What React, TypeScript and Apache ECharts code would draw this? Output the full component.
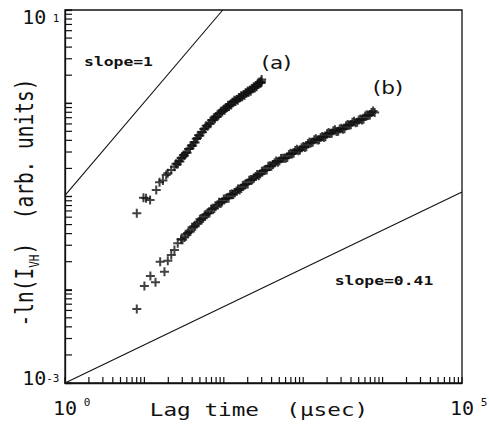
import React, { useEffect, useRef } from "react";
import * as echarts from "echarts";

// ---- data (lag time in µs, -ln(I_VH) in arbitrary units) ----
const A_LAG = [
  8.02, 9.74, 10.5, 11.8, 14.1, 15.5, 17.1, 18.8, 19.7, 21.8, 23.9,
  25, 26, 27, 28, 29, 30, 31, 32, 33, 34.5, 36, 37.5, 39, 40.5, 42, 43.5, 45, 46.5, 48, 50,
  52, 54, 56, 58, 60, 62.5, 65, 67.5, 70, 72.5, 75, 77.5, 80, 83, 86, 89, 92, 95.5, 99, 102.5,
  106, 109.5, 113, 116.5, 120, 124, 128, 132, 136, 140.5, 145, 150, 155, 160, 165, 170.5, 176, 182,
  188, 194, 200, 206, 212, 218.5, 225, 231.5, 238, 245, 252, 259, 266, 273, 280, 290, 295, 298, 300,
];
const A_VAL = [
  0.0661, 0.0971, 0.0957, 0.0918, 0.1175, 0.142, 0.148, 0.17, 0.178, 0.192, 0.209,
  0.2244, 0.2223, 0.2382, 0.2377, 0.2588, 0.2618, 0.2793, 0.2748, 0.2931, 0.2944, 0.3228, 0.3289,
  0.3532, 0.3516, 0.3793, 0.3802, 0.4159, 0.4227, 0.4529, 0.452,
  0.4898, 0.4875, 0.5309, 0.5358, 0.5721, 0.5662, 0.6067, 0.6039, 0.6577, 0.6607, 0.6998, 0.6823,
  0.7228, 0.7161, 0.7709, 0.7745, 0.8222, 0.804, 0.8551, 0.8414,
  0.9024, 0.9012, 0.951, 0.9224, 0.9719, 0.955, 1.0242, 1.0228, 1.0765, 1.0433, 1.097, 1.077,
  1.1522, 1.1482, 1.2071, 1.1716, 1.2337, 1.2093,
  1.2931, 1.2882, 1.3545, 1.3111, 1.3766, 1.3477, 1.4401, 1.4328, 1.5044, 1.4541, 1.5294, 1.5013,
  1.6087, 1.6024, 1.6866, 1.6451, 1.7231, 1.6689, 1.8,
];
const B_LAG = [
  8.02, 10.0, 11.9, 13.8, 15.8, 17.9, 19.7, 21.8, 23.9, 26.3,
  29, 30.2, 32, 33.1, 35, 36.3, 38, 39.8, 42, 43.7, 46, 47.9, 50, 52.5, 55, 57.5, 60, 63.1, 66, 69.2,
  72, 75.9, 79, 83.2, 87, 91.2, 95, 100, 105, 109.6, 115, 120.2, 126, 131.8, 138, 144.5, 151, 158.5,
  166, 173.8, 182, 190.5, 200, 208.9, 219, 229.1, 240, 251.2, 263, 275.4, 288, 302, 316, 331.1,
  347, 363.1, 380, 398.1, 417, 436.5, 457, 478.6, 501, 524.8, 550, 575.4,
  603, 631, 661, 692, 724, 759, 794, 832, 871, 912, 955, 1000, 1047, 1096,
  1148, 1202, 1259, 1318, 1380, 1445, 1514, 1585, 1660, 1738, 1820, 1905, 1995, 2089,
  2188, 2291, 2399, 2512, 2630, 2754, 2884, 3020, 3162, 3311, 3467, 3631, 3802, 3981,
  4169, 4365, 4571, 4786, 5012, 5248, 5495, 5754, 6026, 6310, 6607, 6918, 7244, 7586, 7943,
];
const B_VAL = [
  0.00622, 0.011, 0.014, 0.012, 0.02, 0.0156, 0.0205, 0.0236, 0.0267, 0.0315,
  0.0351, 0.03447, 0.0363, 0.03948, 0.0405, 0.04134, 0.0421, 0.0467, 0.0481, 0.048, 0.0507,
  0.05348, 0.0569, 0.05587, 0.0586, 0.06341, 0.0646, 0.06559, 0.0664, 0.07319,
  0.0748, 0.07431, 0.078, 0.08179, 0.0865, 0.0841, 0.0875, 0.09382, 0.0948, 0.09565, 0.0959,
  0.1052, 0.1069, 0.1053, 0.1096, 0.1143, 0.1202, 0.1171,
  0.1222, 0.1315, 0.1334, 0.135, 0.1361, 0.1496, 0.1524, 0.1508, 0.1574, 0.1641, 0.1722, 0.1673,
  0.1742, 0.187, 0.1892, 0.191,
  0.1919, 0.2105, 0.2138, 0.2112, 0.2203, 0.2296, 0.241, 0.2323, 0.2399, 0.2559, 0.257, 0.2577,
  0.2565, 0.2618, 0.2825, 0.2917, 0.2864, 0.2911, 0.3105, 0.3206, 0.31, 0.3148, 0.3342, 0.3428,
  0.3357, 0.342,
  0.3707, 0.3837, 0.3767, 0.3811, 0.4055, 0.4169, 0.4027, 0.4064, 0.4305, 0.4406, 0.4296,
  0.4375, 0.471, 0.4842,
  0.4732, 0.4775, 0.5058, 0.5188, 0.4989, 0.5023, 0.5297, 0.5395, 0.5248, 0.5333, 0.5741,
  0.5929, 0.5808, 0.5875,
  0.6237, 0.6412, 0.6194, 0.6252, 0.6607, 0.6761, 0.66, 0.673, 0.7278, 0.7516, 0.7379, 0.7499,
  0.798, 0.8241, 0.7962,
];
const SLOPE1_LINE = [[1, 0.103], [97, 10]];
const SLOPE041_LINE = [[1, 0.001], [100000, 0.112]];

// ---- axes ----
const X_MIN = 1;
const X_MAX = 100000;
const Y_MIN = 0.001;
const Y_MAX = 10;
const X_MID = 100; // any x inside the axis, used only to locate y tick positions
const TICK_STEPS = [1, 2, 3, 4, 5, 6, 7, 8, 9];
const X_DECADES = [1, 10, 100, 1000, 10000];
const Y_DECADES = [0.001, 0.01, 0.1, 1];
const X_TICK_EXP: Record<number, string> = { 0: " 0", 5: " 5" };
const Y_TICK_EXP: Record<number, string> = { 1: " 1", [-3]: "-3" };

const X_TICKS = X_DECADES.flatMap((d) => TICK_STEPS.map((m) => m * d)).concat([X_MAX]);
const Y_TICKS = Y_DECADES.flatMap((d) => TICK_STEPS.map((m) => m * d)).concat([Y_MAX]);

const INK = "#111";
const MONO = "'DejaVu Sans Mono', monospace";
const SANS = "'DejaVu Sans', sans-serif";
const PLUS = "path://M5,0L5,10M0,5L10,5";

export default function App() {
  const ref = useRef<HTMLDivElement>(null);
  useEffect(() => {
    if (!ref.current) return;
    const chart = echarts.init(ref.current, null, { renderer: "svg" });
    const scatterStyle = {
      color: "rgba(0,0,0,0)",
      borderColor: INK,
      borderWidth: 2,
    };
    const textBase = {
      fill: INK,
      textAlign: "center",
      textVerticalAlign: "middle",
      verticalAlign: "middle",
    };
    const option: any = {
      animation: false,
      backgroundColor: "#fff",
      grid: {
        left: 65,
        top: 10,
        width: 397,
        height: 373,
        show: true,
        borderColor: INK,
        borderWidth: 1.3,
        containLabel: false,
        outerBoundsMode: "none",
      },
      xAxis: {
        type: "log",
        logBase: 10,
        min: X_MIN,
        max: X_MAX,
        axisLine: { show: true, onZero: false, lineStyle: { color: INK, width: 1.3 } },
        axisTick: { show: false },
        splitLine: { show: false },
        minorTick: { show: false },
        axisLabel: {
          show: true,
          margin: 13.5,
          showMinLabel: true,
          showMaxLabel: true,
          hideOverlap: false,
          formatter: (v: number) => {
            const e = Math.round(Math.log10(v));
            return X_TICK_EXP[e] !== undefined ? `{b|10}{s|${X_TICK_EXP[e]}}` : "";
          },
          rich: {
            b: { fontFamily: MONO, fontSize: 20, lineHeight: 20, color: INK, padding: [2, 0, 0, 13.2] },
            s: { fontFamily: MONO, fontSize: 11, lineHeight: 11, color: INK, verticalAlign: "top" },
          },
        },
      },
      yAxis: {
        type: "log",
        logBase: 10,
        min: Y_MIN,
        max: Y_MAX,
        axisLine: { show: true, onZero: false, lineStyle: { color: INK, width: 1.3 } },
        axisTick: { show: true, inside: true, length: 7, lineStyle: { color: INK, width: 1.2 } },
        splitLine: { show: false },
        minorTick: { show: false },
        axisLabel: {
          show: true,
          margin: 5.5,
          showMinLabel: true,
          showMaxLabel: true,
          hideOverlap: false,
          formatter: (v: number) => {
            const e = Math.round(Math.log10(v));
            if (Y_TICK_EXP[e] === undefined) return "";
            return e > 0 ? `{b1|10}{s1|${Y_TICK_EXP[e]}}` : `{b0|10}{s0|${Y_TICK_EXP[e]}}`;
          },
          rich: {
            b1: { fontFamily: MONO, fontSize: 20, lineHeight: 20, color: INK, padding: [13, 0, 0, 0] },
            s1: { fontFamily: MONO, fontSize: 11, lineHeight: 11, color: INK, padding: [13, 0, 0, 0], verticalAlign: "top" },
            b0: { fontFamily: MONO, fontSize: 20, lineHeight: 20, color: INK, padding: [0, 0, 11, 0] },
            s0: { fontFamily: MONO, fontSize: 11, lineHeight: 11, color: INK, verticalAlign: "top" },
          },
        },
      },
      series: [
        {
          name: "slope=1",
          type: "line",
          data: SLOPE1_LINE,
          symbol: "none",
          silent: true,
          lineStyle: { color: INK, width: 1.1 },
        },
        {
          name: "slope=0.41",
          type: "line",
          data: SLOPE041_LINE,
          symbol: "none",
          silent: true,
          lineStyle: { color: INK, width: 1.1 },
        },
        {
          name: "(a)",
          type: "scatter",
          symbol: PLUS,
          symbolSize: 9,
          data: A_LAG.map((x, i) => [x, A_VAL[i]]),
          itemStyle: scatterStyle,
          silent: true,
        },
        {
          name: "(b)",
          type: "scatter",
          symbol: PLUS,
          symbolSize: 9,
          data: B_LAG.map((x, i) => [x, B_VAL[i]]),
          itemStyle: scatterStyle,
          silent: true,
        },
        {
          name: "xTicks",
          type: "custom",
          silent: true,
          clip: false,
          z: 10,
          data: X_TICKS.map((v) => [v, Y_MIN]),
          encode: { x: 0, y: 1 },
          renderItem: (params: any, api: any) => {
            const pt = api.coord([api.value(0), api.value(1)]);
            const bottom = params.coordSys.y + params.coordSys.height;
            return {
              type: "rect",
              shape: { x: pt[0] - 0.6, y: bottom - 6, width: 1.2, height: 6 },
              style: { fill: INK },
            };
          },
        },
        {
          name: "yTicks",
          type: "custom",
          silent: true,
          clip: false,
          z: 10,
          data: Y_TICKS.map((v) => [X_MID, v]),
          encode: { x: 0, y: 1 },
          renderItem: (params: any, api: any) => {
            const pt = api.coord([api.value(0), api.value(1)]);
            const left = params.coordSys.x;
            return {
              type: "rect",
              shape: { x: left, y: pt[1] - 0.6, width: 7, height: 1.2 },
              style: { fill: INK },
            };
          },
        },
      ],
      graphic: {
        elements: [
          {
            type: "text",
            x: 118.5,
            y: 61,
            scaleX: 1.26,
            silent: true,
            style: { ...textBase, text: "slope=1", fontFamily: MONO, fontSize: 13, fontWeight: "bold" },
          },
          {
            type: "text",
            x: 384,
            y: 280,
            scaleX: 1.26,
            silent: true,
            style: { ...textBase, text: "slope=0.41", fontFamily: MONO, fontSize: 13, fontWeight: "bold" },
          },
          {
            type: "text",
            x: 276.5,
            y: 63.5,
            scaleX: 1.2,
            silent: true,
            style: { ...textBase, text: "(a)", fontFamily: SANS, fontSize: 18 },
          },
          {
            type: "text",
            x: 388,
            y: 88,
            scaleX: 1.2,
            silent: true,
            style: { ...textBase, text: "(b)", fontFamily: SANS, fontSize: 18 },
          },
          {
            type: "text",
            x: 259,
            y: 409.5,
            scaleX: 1.26,
            silent: true,
            style: { ...textBase, text: "Lag time  (µsec)", fontFamily: MONO, fontSize: 18 },
          },
          {
            type: "text",
            x: 24,
            y: 202.5,
            rotation: Math.PI / 2,
            scaleY: 1.27,
            silent: true,
            style: {
              ...textBase,
              text: "{m|-ln(I}{sub|VH}{m|)  (arb. units)}",
              rich: {
                m: { fontFamily: MONO, fontSize: 19.5, lineHeight: 26, fill: INK, color: INK },
                sub: { fontFamily: MONO, fontSize: 11, lineHeight: 11, fill: INK, color: INK, verticalAlign: "bottom" },
              },
            },
          },
        ],
      },
    };
    chart.setOption(option);
    return () => chart.dispose();
  }, []);
  return (
    <div
      ref={ref}
      style={{ position: "fixed", left: 0, top: 0, width: 489, height: 427, background: "#fff" }}
    />
  );
}
